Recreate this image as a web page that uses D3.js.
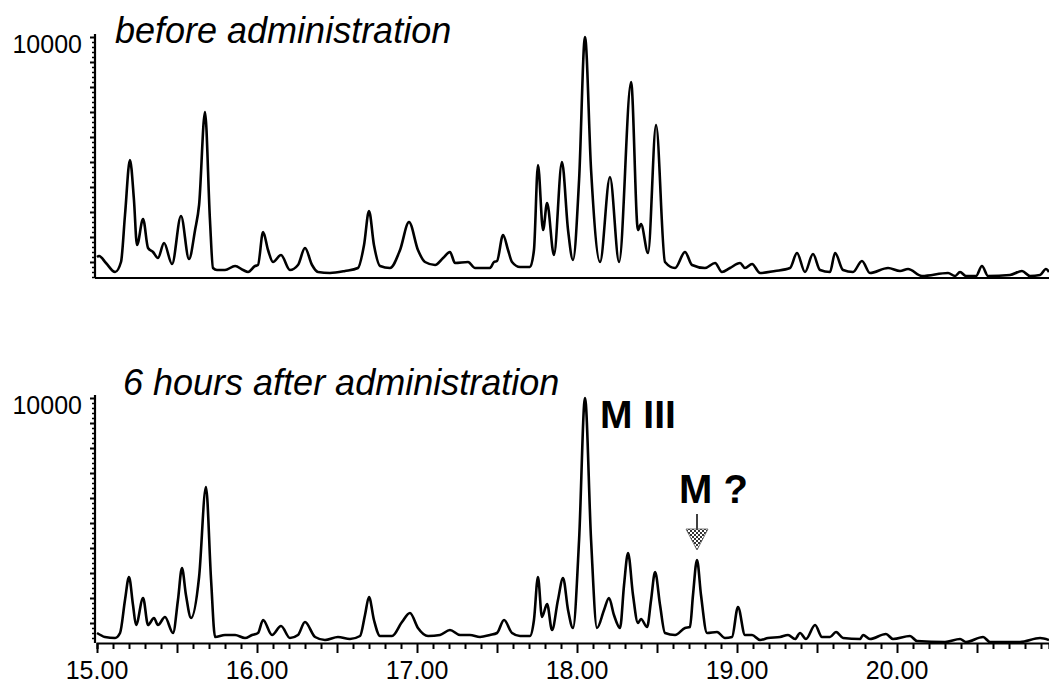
<!DOCTYPE html>
<html>
<head>
<meta charset="utf-8">
<script src="https://cdn.jsdelivr.net/npm/d3@7"></script>
<style>
  body { margin: 0; background: #fff; }
  text { font-family: "Liberation Sans", Arial, sans-serif; }
</style>
</head>
<body>
<svg id="chart"></svg>
<script>
// retention time (min), abundance
const beforeTrace = [
  [15.000, 1200], [15.013, 1240], [15.056, 960], [15.113, 600], [15.150, 1000], [15.175, 2880],
  [15.206, 5080], [15.231, 3480], [15.250, 1680], [15.288, 2720], [15.319, 1560], [15.350, 1400],
  [15.381, 1160], [15.419, 1760], [15.469, 920], [15.525, 2840], [15.575, 1120], [15.613, 2280],
  [15.638, 3280], [15.675, 7000], [15.706, 2680], [15.725, 760], [15.750, 680], [15.800, 680],
  [15.863, 840], [15.913, 680], [15.944, 600], [15.988, 840], [16.006, 880], [16.038, 2200],
  [16.069, 1480], [16.100, 1000], [16.150, 1280], [16.206, 680], [16.256, 880], [16.300, 1560],
  [16.344, 880], [16.381, 600], [16.456, 560], [16.550, 640], [16.631, 760], [16.669, 1680],
  [16.700, 3040], [16.731, 1680], [16.769, 840], [16.831, 760], [16.894, 1480], [16.950, 2600],
  [17.006, 1480], [17.050, 1000], [17.113, 880], [17.163, 1160], [17.206, 1400], [17.238, 960],
  [17.319, 1000], [17.363, 760], [17.456, 760], [17.481, 1000], [17.500, 1040], [17.538, 2080],
  [17.569, 1480], [17.594, 1000], [17.644, 800], [17.706, 800], [17.731, 1480], [17.756, 4880],
  [17.788, 2280], [17.813, 3360], [17.856, 1280], [17.906, 5000], [17.944, 2280], [17.975, 1080],
  [18.013, 4280], [18.050, 10000], [18.088, 4680], [18.144, 1000], [18.206, 4400], [18.263, 1000],
  [18.338, 8200], [18.381, 2280], [18.400, 2520], [18.444, 1360], [18.494, 6480], [18.550, 1000],
  [18.613, 760], [18.675, 1400], [18.719, 880], [18.800, 760], [18.863, 960], [18.906, 600],
  [18.956, 760], [19.019, 960], [19.050, 760], [19.094, 920], [19.144, 560], [19.238, 640],
  [19.331, 760], [19.375, 1360], [19.425, 600], [19.475, 1320], [19.519, 680], [19.581, 600],
  [19.613, 1360], [19.663, 680], [19.725, 600], [19.781, 1040], [19.831, 560], [19.944, 760],
  [20.019, 640], [20.069, 720], [20.156, 440], [20.319, 560], [20.363, 440], [20.394, 600],
  [20.431, 440], [20.494, 440], [20.531, 840], [20.569, 440], [20.706, 480], [20.781, 640],
  [20.831, 440], [20.894, 480], [20.931, 720], [20.950, 600]
];

const afterTrace = [
  [15.000, 600], [15.050, 440], [15.113, 400], [15.144, 600], [15.175, 1920], [15.200, 2840],
  [15.225, 1720], [15.244, 920], [15.288, 2000], [15.319, 920], [15.356, 1200], [15.381, 920],
  [15.425, 1240], [15.475, 600], [15.506, 1920], [15.531, 3200], [15.556, 2120], [15.588, 1200],
  [15.638, 2840], [15.681, 6440], [15.713, 2720], [15.738, 440], [15.800, 520], [15.863, 520],
  [15.925, 400], [15.969, 520], [16.006, 600], [16.038, 1120], [16.094, 520], [16.150, 880],
  [16.206, 400], [16.256, 520], [16.300, 1040], [16.363, 440], [16.425, 320], [16.506, 440],
  [16.581, 360], [16.644, 480], [16.675, 1320], [16.700, 2040], [16.731, 1120], [16.769, 480],
  [16.844, 480], [16.906, 1040], [16.956, 1400], [17.006, 800], [17.069, 480], [17.144, 520],
  [17.206, 720], [17.269, 520], [17.331, 520], [17.394, 440], [17.456, 520], [17.500, 600],
  [17.544, 1120], [17.594, 600], [17.644, 480], [17.706, 480], [17.731, 1120], [17.756, 2840],
  [17.781, 1240], [17.813, 1760], [17.844, 720], [17.881, 1920], [17.913, 2800], [17.944, 1520],
  [17.975, 800], [18.013, 4320], [18.050, 10000], [18.088, 4320], [18.125, 800], [18.169, 1520],
  [18.200, 2000], [18.231, 1320], [18.269, 800], [18.294, 2520], [18.319, 3800], [18.350, 2120],
  [18.381, 1000], [18.400, 1160], [18.438, 840], [18.463, 1920], [18.488, 3040], [18.519, 1720],
  [18.550, 600], [18.613, 520], [18.675, 800], [18.706, 840], [18.725, 2120], [18.750, 3520],
  [18.775, 2120], [18.813, 600], [18.875, 640], [18.925, 400], [18.969, 440], [19.006, 1640],
  [19.050, 520], [19.094, 520], [19.144, 320], [19.194, 400], [19.269, 440], [19.319, 520],
  [19.363, 360], [19.394, 600], [19.431, 360], [19.488, 920], [19.531, 440], [19.581, 440],
  [19.619, 640], [19.663, 400], [19.769, 360], [19.788, 520], [19.831, 360], [19.931, 560],
  [19.975, 360], [20.081, 480], [20.125, 280], [20.300, 240], [20.394, 360], [20.431, 240],
  [20.538, 440], [20.581, 240], [20.769, 240], [20.894, 400], [20.950, 320]
];

const timeTicks = d3.range(150, 210).map(d => d / 10);
const timeLabels = [15, 16, 17, 18, 19, 20];
const yLabel = 10000;

const width = 1049, height = 684;
const svg = d3.select("#chart").attr("width", width).attr("height", height);

const xScale = d3.scaleLinear().domain([15, 20.95]).range([97, 1049]);

// pattern for the dithered arrow head
const pat = svg.append("defs").append("pattern").attr("id", "dots")
  .attr("width", 4).attr("height", 4).attr("patternUnits", "userSpaceOnUse");
pat.append("rect").attr("width", 4).attr("height", 4).attr("fill", "#fff");
pat.append("rect").attr("width", 2).attr("height", 2).attr("fill", "#333");
pat.append("rect").attr("x", 2).attr("y", 2).attr("width", 2).attr("height", 2).attr("fill", "#333");

function drawPanel(opts) {
  const y = d3.scaleLinear().domain([0, 10000]).range([opts.zeroY, opts.topY]);
  const g = svg.append("g");
  const minVal = Math.ceil(y.invert(opts.baseY) / 200) * 200;

  // y axis
  const ga = g.append("g").attr("transform", `translate(${xScale(15) - 2},0)`)
    .call(d3.axisLeft(y).tickValues(d3.range(minVal, 10001, 200)).tickSize(3).tickFormat(""));
  ga.select(".domain").remove();
  ga.selectAll(".tick line").attr("x2", d => d % 1000 === 0 ? -5 : -3)
    .attr("stroke-width", d => d % 1000 === 0 ? 2 : 1.5);
  ga.append("line").attr("y1", opts.baseY).attr("y2", opts.topY - 3)
    .attr("stroke", "#000").attr("stroke-width", 2.2);
  g.append("text").attr("x", 82).attr("y", y(yLabel) + 16)
    .attr("text-anchor", "end").attr("font-size", 25).text(yLabel);

  // baseline / x axis
  if (opts.xAxis) {
    const gx = g.append("g").attr("transform", `translate(0,${opts.baseY})`)
      .call(d3.axisBottom(xScale).tickValues(timeTicks).tickSizeOuter(0).tickSize(6).tickFormat(""));
    gx.select(".domain").attr("stroke-width", 2.2);
    gx.selectAll(".tick line").attr("y2", d => Math.abs(d * 2 - Math.round(d * 2)) < 1e-6 ? 10 : 6)
      .attr("stroke-width", 2);
    g.selectAll(".xlab").data(timeLabels).enter().append("text")
      .attr("x", d => xScale(d)).attr("y", opts.baseY + 36)
      .attr("text-anchor", "middle").attr("font-size", 25)
      .text(d => d3.format(".2f")(d));
  } else {
    g.append("line").attr("x1", xScale(15) - 2).attr("x2", width)
      .attr("y1", opts.baseY).attr("y2", opts.baseY)
      .attr("stroke", "#000").attr("stroke-width", 2.2);
  }

  // trace
  const line = d3.line().x(d => xScale(d[0])).y(d => y(d[1])).curve(d3.curveMonotoneX);
  g.append("path").datum(opts.data).attr("d", line)
    .attr("fill", "none").attr("stroke", "#000").attr("stroke-width", 2.6)
    .attr("stroke-linejoin", "round");

  g.append("text").attr("x", opts.titleX).attr("y", opts.titleY)
    .attr("font-size", 36).attr("font-style", "italic").text(opts.title);
  return y;
}

drawPanel({ data: beforeTrace, zeroY: 287, topY: 37, baseY: 278, xAxis: false,
  title: "before administration", titleX: 115, titleY: 43 });
drawPanel({ data: afterTrace, zeroY: 648, topY: 398, baseY: 643, xAxis: true,
  title: "6 hours after administration", titleX: 123, titleY: 395 });

// annotations
svg.append("text").attr("x", xScale(18.05) + 15).attr("y", 428)
  .attr("font-size", 39).attr("font-weight", "bold").text("M III");
const ax = xScale(18.75);
svg.append("text").attr("x", ax - 18).attr("y", 503)
  .attr("font-size", 40).attr("font-weight", "bold").text("M ?");
svg.append("line").attr("x1", ax).attr("x2", ax).attr("y1", 514).attr("y2", 531)
  .attr("stroke", "#000").attr("stroke-width", 1.5);
svg.append("path").attr("d", `M${ax - 11},529 L${ax + 11},529 L${ax},550 Z`)
  .attr("fill", "url(#dots)").attr("stroke", "#555").attr("stroke-width", 0.8);
</script>
</body>
</html>
